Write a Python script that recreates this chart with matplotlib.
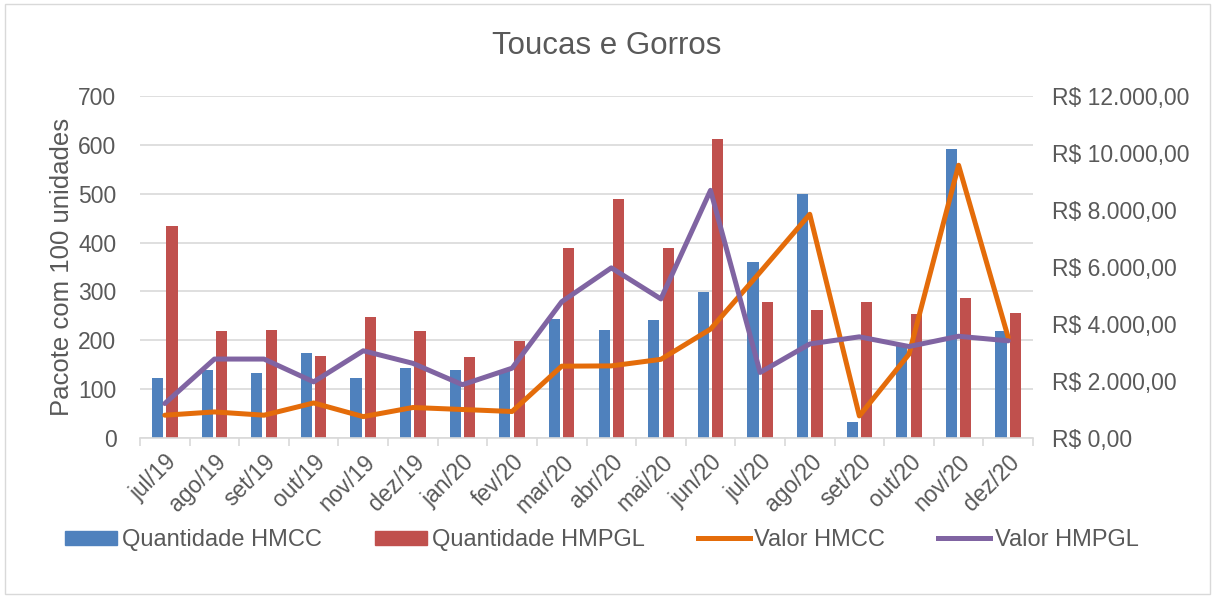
import numpy as np
import matplotlib.pyplot as plt
from matplotlib.patches import Rectangle
from matplotlib.lines import Line2D
from matplotlib.ticker import FuncFormatter

plt.rcParams['font.family'] = ['Liberation Sans', 'DejaVu Sans']

meses = ['jul/19', 'ago/19', 'set/19', 'out/19', 'nov/19', 'dez/19', 'jan/20', 'fev/20', 'mar/20',
         'abr/20', 'mai/20', 'jun/20', 'jul/20', 'ago/20', 'set/20', 'out/20', 'nov/20', 'dez/20']

# Quantidade (pacotes com 100 unidades)
qtd_hmcc = [123, 139, 133, 174, 122, 143, 140, 140, 244, 221, 241, 299, 361, 500, 33, 189, 591, 220]
qtd_hmpgl = [434, 220, 222, 168, 248, 218, 166, 198, 388, 489, 388, 611, 279, 262, 279, 254, 287, 256]

# Valor (R$)
valor_hmcc = [800, 915, 800, 1230, 750, 1070, 1000, 930, 2520, 2530, 2760, 3820, 5820, 7850, 775, 2940, 9570, 3530]
valor_hmpgl = [1210, 2770, 2770, 1970, 3060, 2620, 1870, 2450, 4780, 5970, 4880, 8690, 2300, 3300, 3550, 3210, 3570, 3410]

azul = '#4F81BD'
vermelho = '#C0504D'
laranja = '#E46C0A'
roxo = '#8064A2'
cinza = '#595959'

fig = plt.figure(figsize=(12.13, 5.97), dpi=100)
ax = fig.add_axes([140 / 1213, 1 - 438 / 597, (1033 - 140) / 1213, (438 - 96) / 597])
ax2 = ax.twinx()

# borda da area do grafico
fig.patches.append(Rectangle((5 / 1213, 3 / 597), 1205 / 1213, 590 / 597, transform=fig.transFigure,
                             fill=False, edgecolor='#D9D9D9', linewidth=1))

x = np.arange(len(meses))
w = 0.225
ax.bar(x - 0.145, qtd_hmcc, w, color=azul, zorder=2)
ax.bar(x + 0.145, qtd_hmpgl, w, color=vermelho, zorder=2)

ax2.plot(x, valor_hmcc, color=laranja, lw=3.6, solid_joinstyle='round', solid_capstyle='round')
ax2.plot(x, valor_hmpgl, color=roxo, lw=3.6, solid_joinstyle='round', solid_capstyle='round')

ax.set_xlim(-0.5, len(meses) - 0.5)
ax.set_ylim(0, 700)
ax.set_yticks(range(0, 701, 100))
ax2.set_ylim(0, 12000)
ax2.set_yticks(range(0, 12001, 2000))


def reais(v, pos):
    s = f'{v:,.2f}'.replace(',', 'X').replace('.', ',').replace('X', '.')
    return 'R$ ' + s


ax2.yaxis.set_major_formatter(FuncFormatter(reais))

ax.grid(axis='y', color='#D9D9D9', lw=1.2, zorder=0)
ax.set_axisbelow(True)

for a in (ax, ax2):
    for s in ['top', 'left', 'right', 'bottom']:
        a.spines[s].set_visible(False)
ax.spines['bottom'].set_visible(True)
ax.spines['bottom'].set_color('#D9D9D9')
ax.spines['bottom'].set_linewidth(1.2)

ax.set_xticks(x)
ax.set_xticklabels(meses, rotation=45, ha='right', rotation_mode='anchor', fontsize=16.5, color=cinza)
ax.tick_params(axis='x', length=0, pad=9)
ax.set_xticks(np.arange(-0.5, len(meses), 1), minor=True)
ax.tick_params(axis='x', which='minor', length=6, color='#D9D9D9', width=1.2)
ax.tick_params(axis='y', length=0, labelsize=16.5, labelcolor=cinza, pad=17)
ax2.tick_params(axis='y', length=0, labelsize=16.5, labelcolor=cinza, pad=14)

ax.set_ylabel('Pacote com 100 unidades', fontsize=18.5, color=cinza, labelpad=3)
fig.text(0.5, 1 - 46 / 597, 'Toucas e Gorros', ha='center', va='center', fontsize=22.5, color=cinza)

handles = [Rectangle((0, 0), 1, 1, color=azul), Rectangle((0, 0), 1, 1, color=vermelho),
           Line2D([], [], color=laranja, lw=3.6), Line2D([], [], color=roxo, lw=3.6)]
labels = ['Quantidade HMCC', 'Quantidade HMPGL', 'Valor HMCC', 'Valor HMPGL']
leg = fig.legend(handles, labels, loc='center', bbox_to_anchor=(602 / 1213, 1 - 540 / 597), ncol=4,
                 frameon=False, fontsize=17, handlelength=2.2, handletextpad=0.2, columnspacing=2.25,
                 handleheight=0.55)
for t in leg.get_texts():
    t.set_color(cinza)

fig.savefig('out.png', dpi=100)
